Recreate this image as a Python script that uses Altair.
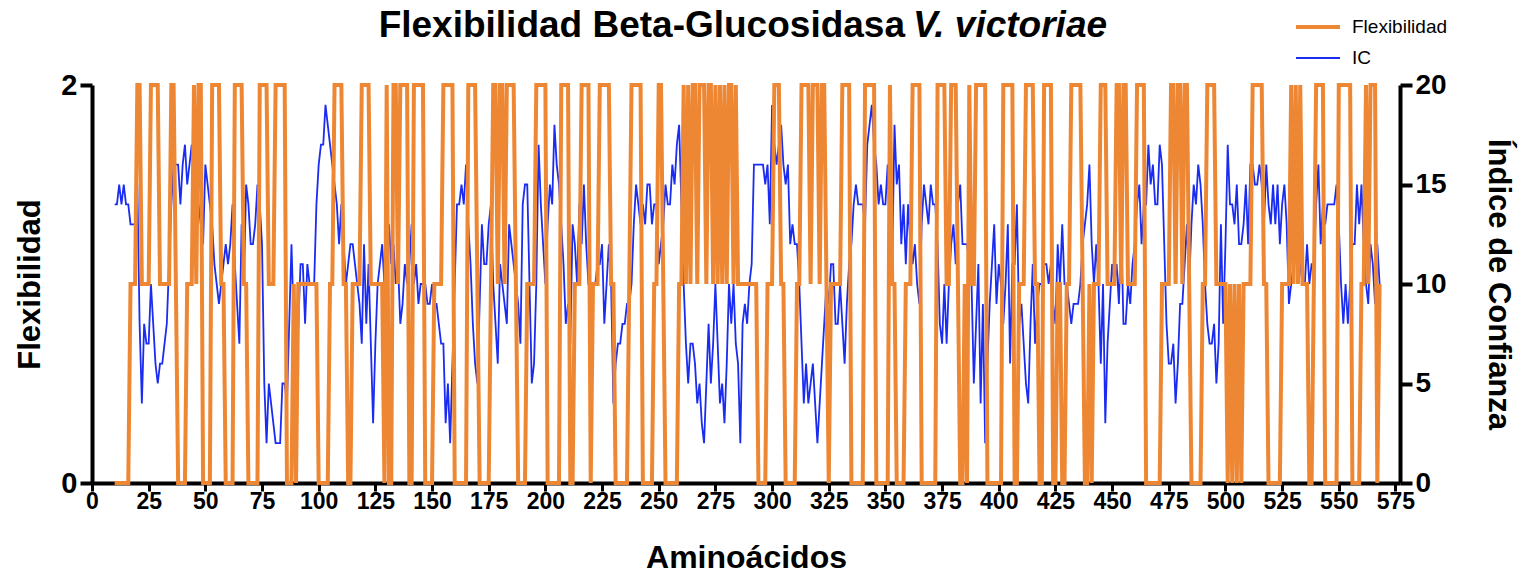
import altair as alt
import pandas as pd

# ---------------- data ----------------
START = 10  # first amino-acid position plotted

flex = [
    0, 0, 0, 0, 0, 0, 0, 1, 1, 1,  # 10-19
    2, 2, 1, 1, 1, 1, 2, 2, 2, 2,  # 20-29
    1, 1, 1, 1, 1, 2, 2, 1, 0, 0,  # 30-39
    0, 0, 1, 1, 1, 2, 1, 2, 2, 0,  # 40-49
    0, 0, 0, 2, 2, 2, 2, 1, 1, 0,  # 50-59
    0, 0, 0, 2, 2, 2, 2, 1, 1, 0,  # 60-69
    0, 0, 0, 0, 2, 2, 2, 2, 1, 1,  # 70-79
    1, 2, 2, 2, 2, 2, 0, 0, 0, 1,  # 80-89
    0, 1, 1, 1, 1, 1, 1, 1, 1, 1,  # 90-99
    0, 0, 0, 0, 0, 1, 1, 2, 2, 2,  # 100-109
    2, 1, 1, 0, 0, 1, 1, 1, 1, 2,  # 110-119
    2, 2, 2, 1, 1, 1, 1, 1, 1, 0,  # 120-129
    2, 0, 0, 2, 2, 1, 2, 2, 2, 2,  # 130-139
    0, 0, 2, 2, 2, 2, 2, 0, 0, 0,  # 140-149
    0, 1, 1, 1, 1, 2, 2, 2, 2, 2,  # 150-159
    0, 0, 0, 0, 0, 0, 2, 2, 2, 2,  # 160-169
    1, 0, 0, 0, 0, 0, 1, 2, 2, 1,  # 170-179
    2, 2, 1, 2, 2, 2, 2, 1, 0, 0,  # 180-189
    0, 0, 1, 1, 1, 1, 2, 2, 2, 2,  # 190-199
    2, 0, 0, 0, 0, 0, 0, 2, 2, 2,  # 200-209
    2, 0, 0, 1, 1, 1, 2, 2, 2, 2,  # 210-219
    0, 1, 1, 1, 2, 2, 2, 2, 2, 1,  # 220-229
    1, 0, 0, 0, 0, 0, 0, 1, 2, 2,  # 230-239
    2, 2, 2, 0, 0, 0, 0, 0, 1, 1,  # 240-249
    2, 2, 1, 0, 0, 0, 0, 0, 0, 1,  # 250-259
    1, 2, 1, 2, 1, 2, 2, 1, 2, 2,  # 260-269
    2, 1, 2, 2, 1, 2, 1, 2, 1, 2,  # 270-279
    1, 2, 2, 1, 2, 1, 1, 1, 1, 1,  # 280-289
    1, 1, 1, 1, 0, 0, 0, 0, 1, 1,  # 290-299
    1, 2, 2, 2, 1, 1, 0, 0, 0, 0,  # 300-309
    0, 1, 1, 2, 2, 2, 2, 1, 2, 2,  # 310-319
    2, 1, 2, 2, 1, 0, 1, 1, 1, 1,  # 320-329
    1, 2, 2, 2, 2, 0, 0, 0, 0, 0,  # 330-339
    0, 2, 2, 2, 2, 2, 0, 0, 0, 0,  # 340-349
    0, 0, 2, 1, 1, 0, 0, 0, 0, 1,  # 350-359
    1, 1, 2, 2, 2, 2, 0, 0, 0, 0,  # 360-369
    0, 0, 0, 2, 2, 2, 2, 1, 1, 2,  # 370-379
    2, 2, 1, 0, 0, 1, 0, 2, 1, 1,  # 380-389
    2, 2, 2, 2, 2, 0, 0, 0, 0, 0,  # 390-399
    0, 0, 2, 2, 2, 2, 2, 0, 0, 1,  # 400-409
    1, 1, 2, 2, 2, 2, 1, 1, 0, 0,  # 410-419
    2, 2, 2, 2, 0, 0, 1, 1, 0, 0,  # 420-429
    1, 1, 2, 2, 2, 2, 2, 1, 0, 0,  # 430-439
    1, 0, 1, 1, 1, 2, 2, 2, 1, 1,  # 440-449
    1, 1, 2, 2, 1, 2, 2, 1, 1, 1,  # 450-459
    1, 2, 2, 2, 2, 0, 0, 0, 0, 0,  # 460-469
    0, 0, 1, 1, 1, 1, 2, 2, 1, 2,  # 470-479
    2, 1, 2, 2, 1, 0, 0, 0, 0, 0,  # 480-489
    1, 1, 2, 2, 2, 2, 1, 1, 1, 1,  # 490-499
    1, 0, 1, 0, 1, 0, 1, 0, 1, 1,  # 500-509
    1, 1, 2, 2, 2, 2, 2, 1, 1, 0,  # 510-519
    0, 0, 0, 0, 0, 1, 1, 1, 1, 2,  # 520-529
    1, 2, 1, 2, 1, 1, 1, 0, 0, 1,  # 530-539
    2, 2, 2, 2, 0, 0, 0, 0, 0, 0,  # 540-549
    2, 2, 2, 2, 2, 2, 0, 0, 0, 0,  # 550-559
    1, 1, 2, 1, 2, 2, 2, 0, 1,     # 560-568
]

ic = [
    14, 14, 15, 14, 15, 14, 14, 13, 13, 13,  # 10-19
    15, 8, 4, 8, 7, 7, 10, 8, 6, 5,          # 20-29
    6, 6, 7, 8, 11, 14, 16, 16, 16, 14,      # 30-39
    16, 17, 15, 16, 17, 15, 16, 14, 13, 12,  # 40-49
    16, 15, 14, 13, 11, 10, 9, 10, 11, 12,   # 50-59
    11, 12, 14, 11, 9, 7, 13, 10, 15, 14,    # 60-69
    12, 12, 13, 15, 14, 12, 5, 2, 5, 4,      # 70-79
    3, 2, 2, 2, 5, 5, 4, 8, 12, 8,           # 80-89
    5, 8, 11, 11, 8, 11, 10, 10, 10, 14,     # 90-99
    16, 17, 17, 19, 18, 17, 16, 15, 14, 12,  # 100-109
    14, 12, 10, 11, 12, 12, 11, 10, 9, 7,    # 110-119
    12, 8, 11, 7, 3, 7, 10, 11, 12, 10,      # 120-129
    11, 13, 11, 12, 10, 11, 8, 9, 11, 10,    # 130-139
    11, 13, 10, 11, 9, 10, 10, 10, 9, 9,     # 140-149
    10, 9, 9, 8, 7, 7, 3, 5, 2, 6,           # 150-159
    10, 14, 14, 15, 14, 16, 13, 11, 8, 6,    # 160-169
    5, 9, 13, 11, 11, 13, 14, 10, 8, 6,      # 170-179
    11, 10, 9, 8, 13, 12, 11, 10, 9, 7,      # 180-189
    14, 15, 15, 10, 5, 6, 10, 17, 14, 12,    # 190-199
    10, 13, 15, 14, 18, 16, 15, 13, 11, 8,   # 200-209
    9, 7, 13, 12, 10, 14, 12, 15, 12, 10,    # 210-219
    10, 10, 10, 11, 11, 12, 8, 10, 12, 10,   # 220-229
    4, 6, 7, 7, 8, 8, 9, 9, 10, 13,          # 230-239
    15, 14, 13, 14, 13, 15, 15, 13, 14, 14,  # 240-249
    11, 12, 13, 15, 14, 14, 16, 15, 17, 18,  # 250-259
    14, 10, 7, 5, 7, 7, 6, 4, 5, 3,          # 260-269
    2, 5, 8, 5, 7, 10, 7, 4, 5, 3,           # 270-279
    6, 10, 8, 10, 7, 6, 2, 8, 9, 8,          # 280-289
    10, 11, 16, 16, 16, 16, 16, 15, 16, 13,  # 290-299
    19, 17, 16, 17, 18, 16, 15, 16, 12, 13,  # 300-309
    12, 12, 10, 7, 4, 6, 4, 5, 6, 4,         # 310-319
    2, 4, 6, 8, 10, 9, 11, 11, 8, 8,         # 320-329
    10, 8, 6, 9, 11, 12, 14, 15, 14, 14,     # 330-339
    14, 13, 17, 18, 19, 17, 16, 14, 15, 14,  # 340-349
    14, 16, 12, 11, 18, 15, 16, 12, 14, 11,  # 350-359
    14, 12, 11, 12, 10, 9, 13, 15, 14, 13,   # 360-369
    15, 14, 14, 12, 8, 7, 10, 7, 10, 12,     # 370-379
    13, 11, 14, 15, 12, 12, 12, 11, 10, 5,   # 380-389
    8, 11, 4, 9, 2, 6, 9, 11, 13, 9,         # 390-399
    11, 10, 8, 10, 13, 6, 11, 11, 14, 8,     # 400-409
    9, 7, 5, 4, 8, 11, 7, 9, 10, 10,         # 410-419
    11, 11, 10, 11, 9, 8, 12, 10, 13, 10,    # 420-429
    10, 9, 8, 9, 9, 9, 10, 12, 13, 14,       # 430-439
    16, 12, 10, 12, 10, 6, 10, 3, 7, 9,      # 440-449
    11, 10, 11, 9, 13, 8, 8, 10, 9, 11,      # 450-459
    12, 14, 15, 12, 14, 14, 17, 15, 16, 14,  # 460-469
    14, 17, 16, 12, 8, 6, 6, 7, 4, 6,        # 470-479
    9, 9, 11, 13, 10, 13, 15, 14, 16, 15,    # 480-489
    13, 10, 8, 7, 7, 8, 5, 7, 13, 8,         # 490-499
    12, 17, 14, 14, 13, 15, 12, 12, 13, 15,  # 500-509
    12, 16, 16, 15, 15, 16, 15, 13, 16, 14,  # 510-519
    13, 15, 13, 15, 12, 14, 15, 13, 9, 10,   # 520-529
    11, 12, 12, 11, 10, 10, 12, 10, 11, 11,  # 530-539
    14, 16, 12, 14, 13, 14, 14, 14, 14, 15,  # 540-549
    13, 10, 8, 10, 8, 10, 12, 12, 15, 13,    # 550-559
    15, 12, 10, 9, 12, 11, 9, 12, 10,        # 560-568
]

aminoacids = list(range(START, START + len(flex)))
x_ticks = list(range(0, 576, 25))
flex_ticks = [0, 1, 2]
ic_ticks = [0, 5, 10, 15, 20]

title_main = "Flexibilidad Beta-Glucosidasa"
title_species = "V. victoriae"
legend_labels = ["Flexibilidad", "IC"]

ORANGE = "#ED8733"
BLUE = "#1B2CF2"
FONT = "Liberation Sans"

df = pd.DataFrame({"aa": aminoacids, "flex": flex, "ic": ic})

W, H = 1308, 398

x_scale = alt.Scale(domain=[0, 577], nice=False, zero=False)
x_axis = alt.Axis(
    values=x_ticks, title="Aminoácidos", grid=False, format="d",
    labelFont=FONT, labelFontSize=23, labelFontWeight="bold", labelColor="black",
    labelPadding=-1, labelFlush=False, labelOverlap=False,
    domainColor="black", domainWidth=4, tickColor="black", tickWidth=3, tickSize=8,
    titleFont=FONT, titleFontSize=32, titleFontWeight="bold", titleColor="black",
    titleY=84, titleBaseline="alphabetic",
)

ic_layer = alt.Chart(df).mark_line(color=BLUE, strokeWidth=1.8).encode(
    x=alt.X("aa:Q", scale=x_scale, axis=x_axis),
    y=alt.Y(
        "ic:Q",
        scale=alt.Scale(domain=[0, 20], nice=False),
        axis=alt.Axis(
            orient="right", values=ic_ticks, title="Índice de Confianza", grid=False, format="d",
            labelFont=FONT, labelFontSize=28, labelFontWeight="bold", labelColor="black",
            labelPadding=3,
            domainColor="black", domainWidth=4, tickColor="black", tickWidth=4, tickSize=12,
            titleFont=FONT, titleFontSize=31, titleFontWeight="bold", titleColor="black",
            titleAngle=90, titleX=97, titleY=H / 2, titleBaseline="middle", titleAlign="center",
        ),
    ),
)

flex_layer = alt.Chart(df).mark_line(color=ORANGE, strokeWidth=4).encode(
    x=alt.X("aa:Q", scale=x_scale, axis=x_axis),
    y=alt.Y(
        "flex:Q",
        scale=alt.Scale(domain=[0, 2], nice=False),
        axis=alt.Axis(
            orient="left", values=flex_ticks, title="Flexibilidad", grid=False, format="d",
            labelFont=FONT, labelFontSize=29, labelFontWeight="bold", labelColor="black",
            labelPadding=3,
            domainColor="black", domainWidth=4, tickColor="black", tickWidth=4, tickSize=12,
            titleFont=FONT, titleFontSize=31, titleFontWeight="bold", titleColor="black",
            titleAngle=-90, titleX=-62, titleY=H / 2, titleBaseline="middle", titleAlign="center",
        ),
    ),
)

one = pd.DataFrame({"d": [0]})

t1 = alt.Chart(pd.DataFrame({"t": [title_main]})).mark_text(
    font=FONT, fontSize=37, fontWeight="bold", align="right", baseline="alphabetic", color="black"
).encode(x=alt.value(813), y=alt.value(-48), text="t:N")
t2 = alt.Chart(pd.DataFrame({"t": [title_species]})).mark_text(
    font=FONT, fontSize=37, fontWeight="bold", fontStyle="italic", align="left",
    baseline="alphabetic", color="black"
).encode(x=alt.value(821), y=alt.value(-48), text="t:N")

leg_o = alt.Chart(one).mark_rule(color=ORANGE, strokeWidth=4).encode(
    x=alt.value(1204), x2=alt.value(1248), y=alt.value(-58))
leg_b = alt.Chart(one).mark_rule(color=BLUE, strokeWidth=1.8).encode(
    x=alt.value(1204), x2=alt.value(1248), y=alt.value(-27))
leg_t1 = alt.Chart(pd.DataFrame({"t": [legend_labels[0]]})).mark_text(
    font=FONT, fontSize=19, align="left", baseline="middle", color="black"
).encode(x=alt.value(1260), y=alt.value(-58), text="t:N")
leg_t2 = alt.Chart(pd.DataFrame({"t": [legend_labels[1]]})).mark_text(
    font=FONT, fontSize=19, align="left", baseline="middle", color="black"
).encode(x=alt.value(1260), y=alt.value(-27), text="t:N")

chart = (
    alt.layer(ic_layer, flex_layer, t1, t2, leg_o, leg_b, leg_t1, leg_t2)
    .resolve_scale(y="independent")
    .properties(
        width=W, height=H,
        autosize=alt.AutoSizeParams(type="none"),
        padding={"left": 84, "top": 77, "right": 118, "bottom": 87},
        background="white",
    )
    .configure_view(stroke=None)
)

chart.save("out.html", embed_options={"renderer": "svg", "actions": False})
